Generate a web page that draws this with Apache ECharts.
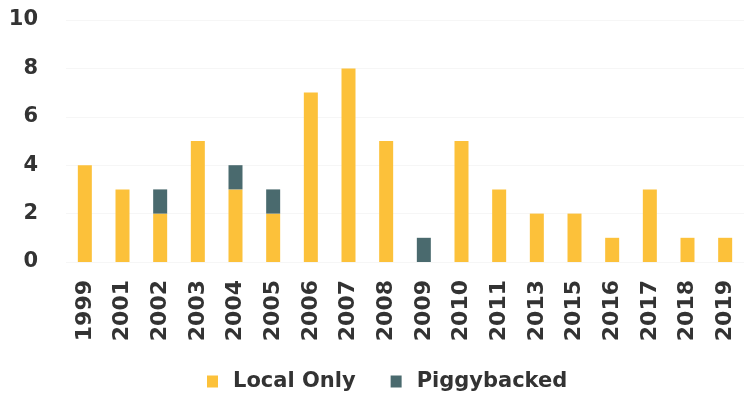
<!DOCTYPE html>
<html><head><meta charset="utf-8">
<script src="https://cdn.jsdelivr.net/npm/echarts@6/dist/echarts.min.js"></script>
<style>html,body{margin:0;padding:0;background:#fff}#c{width:744px;height:400px}</style>
</head><body><div id="c"></div>
<script>
const years = ['1999','2001','2002','2003','2004','2005','2006','2007','2008','2009','2010','2011','2013','2015','2016','2017','2018','2019'];
const localOnly = [4,3,2,5,3,2,7,8,5,0,5,3,2,2,1,3,1,1];
const piggybacked = [0,0,1,0,1,1,0,0,0,1,0,0,0,0,0,0,0,0];
const yTicks = [0,2,4,6,8,10];

const chart = echarts.init(document.getElementById('c'));
const font = '"DejaVu Sans", sans-serif';
chart.setOption({
  animation:false,
  grid:{left:66, top:20, width:684, height:242, containLabel:false},
  legend:{
    data:['Local Only','Piggybacked'], left:202, top:366,
    itemWidth:11, itemHeight:12, itemGap:35, icon:'rect',
    formatter: n => '{t|' + n + '}',
    textStyle:{fontFamily:font, fontWeight:'bold', fontSize:21, color:'#333',
      rich:{t:{fontFamily:font, fontWeight:'bold', fontSize:21, color:'#333', padding:[0,0,0,10]}}}
  },
  xAxis:{type:'category', data:years,
    axisLine:{show:false}, axisTick:{show:false},
    axisLabel:{rotate:90, fontFamily:font, fontWeight:'bold', fontSize:22, color:'#333', margin:18}},
  yAxis:{type:'value', min:yTicks[0], max:yTicks[yTicks.length-1], interval:2,
    axisLine:{show:false}, axisTick:{show:false},
    splitLine:{lineStyle:{color:'#f6f6f6'}},
    axisLabel:{fontFamily:font, fontWeight:'bold', fontSize:21, color:'#333', margin:28}},
  series:[
    {name:'Local Only', type:'bar', stack:'s', data:localOnly, barWidth:14, itemStyle:{color:'#FCC13A'}},
    {name:'Piggybacked', type:'bar', stack:'s', data:piggybacked, barWidth:14, itemStyle:{color:'#4A6A6E'}}
  ]
});
</script></body></html>
